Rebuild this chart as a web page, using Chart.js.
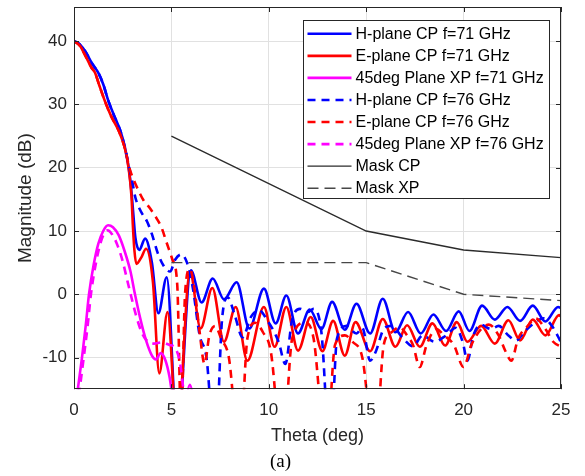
<!DOCTYPE html>
<html>
<head>
<meta charset="utf-8">
<script src="https://cdn.jsdelivr.net/npm/chart.js@4.4.1/dist/chart.umd.min.js"></script>
<style>
  html, body { margin: 0; padding: 0; background: #fff; }
</style>
</head>
<body>
<canvas id="pattern" width="585" height="476"></canvas>
<script>
// values (theta in deg, magnitude in dB)
const xTicks = [0, 5, 10, 15, 20, 25];
const yTicks = [-10, 0, 10, 20, 30, 40];

const thetaH71 = [0, 0.3, 0.6, 0.9, 1.25, 1.5, 1.76, 2.05, 2.36, 2.6,
  2.8, 2.95, 3.05, 3.15, 3.35, 3.65, 4.0, 4.33, 4.76, 5.3,
  6.0, 6.55, 7.12, 7.7, 8.35, 9.0, 9.75, 10.35, 10.9, 11.5,
  12.1, 12.7, 13.25, 13.9, 14.5, 15.2, 15.85, 16.5, 17.15, 17.8,
  18.45, 19.1, 19.75, 20.3, 20.95, 21.6, 22.25, 22.9, 23.55, 24.2,
  24.85, 25];
const magH71 = [40, 39.5, 38.3, 36.6, 35, 33.2, 30.6, 28.3, 26, 23.4,
  20.2, 16.2, 12.5, 9, 7, 8.8, 5, -3, 2.7, -22,
  3.8, -1.3, 2.5, -0.8, 1.9, -5.4, 0.9, -4.6, -0.2, -6.2,
  -2.4, -5.5, -1.2, -5.6, -1.5, -6.2, -0.7, -6, -2.8, -6.2,
  -3.2, -5.8, -2.7, -5.8, -1.8, -4, -2, -4.2, -1.8, -4.3,
  -2, -2.2];

const thetaE71 = [0, 0.3, 0.6, 0.9, 1.08, 1.3, 1.59, 1.9, 2.3, 2.6,
  2.8, 2.95, 3.02, 3.1, 3.2, 3.45, 3.7, 4.05, 4.38, 4.8,
  5.3, 5.95, 6.5, 7.1, 7.7, 8.3, 8.9, 9.75, 10.3, 10.9,
  11.5, 12.15, 12.75, 13.3, 13.9, 14.45, 15.2, 15.85, 16.5, 17.1,
  17.75, 18.4, 19.05, 19.65, 20.2, 20.9, 21.6, 22.3, 22.9, 23.55,
  24.2, 24.9, 25];
const magE71 = [40, 39.3, 37.6, 35.8, 35, 33, 30.5, 28.2, 25.8, 23.2,
  20, 15.5, 11, 7, 4.8, 5.8, 7.2, 2, -12.5, -2.8,
  -22, 3.6, -5.4, 1, -7.5, -2, -10.5, -2, -8.3, -2,
  -8.9, -3.6, -9, -4.2, -9.7, -4.4, -9, -3.9, -8.3, -4.9,
  -8.3, -4.6, -8.1, -4.4, -7.5, -5, -7.8, -4.1, -7.3, -4,
  -6.5, -3.3, -3.5];

const thetaX71 = [0.15, 0.41, 0.6, 0.77, 1.0, 1.25, 1.5, 1.75, 2.0, 2.3,
  2.6, 2.9, 3.13, 3.4, 3.7, 4.0, 4.2, 4.45, 4.7, 4.9,
  5.05, 5.5, 5.95, 6.3];
const magX71 = [-16, -10, -5, 0, 4.5, 8, 10, 10.9, 10.6, 9.3,
  6.8, 3.6, 0, -3.8, -7.3, -9.7, -10.3, -9.3, -10.5, -13,
  -16, -22, -14.3, -22];

const thetaH76 = [0, 0.3, 0.6, 0.9, 1.25, 1.5, 1.76, 2.05, 2.36, 2.6,
  2.8, 2.98, 3.15, 3.45, 3.75, 4.0, 4.3, 4.6, 4.93, 5.2,
  5.5, 5.8, 6.1, 6.45, 6.8, 7.25, 7.6, 7.9, 8.25, 8.65,
  9.1, 9.5, 9.9, 10.5, 10.85, 11.2, 11.6, 12.0, 12.3, 12.7,
  13.15, 13.5, 14.0, 14.5, 14.8, 15.2, 15.5, 15.9, 16.3, 16.9,
  17.4, 17.9, 18.5, 19.1, 19.6, 19.95, 20.2, 20.5, 20.9, 21.4,
  21.8, 22.3, 22.7, 23.1, 23.6, 24.1, 24.6, 25];
const magH76 = [40, 39.5, 38.3, 36.6, 35, 33.2, 30.6, 28.3, 26, 23.4,
  20.5, 18, 15.3, 13, 11.5, 9.5, 6.5, 4.5, 3.6, 5.5,
  6.3, 5, 1, -6.5, -10, -25, -4, -0.5, -3.3, -6.8,
  -3.5, -2.5, -4, -7.5, -11, -4, -2.3, -2.8, -2.3, -6,
  -25, -7, -5, -6.2, -5.3, -10.5, -9, -5.5, -5, -7,
  -8.2, -6.5, -7.5, -6.5, -5.3, -7.5, -10.5, -6.5, -4.8, -5.5,
  -5, -6.5, -7.3, -6, -4.6, -3.8, -5.3, -7.6];

const thetaE76 = [0, 0.3, 0.6, 0.9, 1.08, 1.3, 1.59, 1.9, 2.3, 2.6,
  2.87, 3.22, 3.56, 3.9, 4.24, 4.5, 4.75, 5.05, 5.3, 5.5,
  5.7, 5.95, 6.2, 6.45, 6.7, 6.95, 7.25, 7.55, 7.95, 8.5,
  8.9, 9.3, 9.7, 10.1, 10.7, 11.2, 11.85, 12.3, 12.95, 13.4,
  13.9, 14.3, 14.8, 15.45, 15.9, 16.3, 16.7, 17.1, 17.4, 17.75,
  18.1, 18.6, 19.0, 19.5, 20.0, 20.4, 20.9, 21.3, 21.8, 22.15,
  22.45, 22.8, 23.3, 23.7, 24.2, 24.6, 25];
const magE76 = [40, 39.3, 37.6, 35.8, 35, 33, 30.5, 28.2, 25.8, 23.2,
  19.7, 17, 14.9, 13.6, 12, 10.5, 8.2, 5.5, 1.5, -20,
  0, 4, 0.5, -6, -11, -6.5, -5, -7, -10, -25,
  -7, -4.5, -6, -9, -25, -7, -4.5, -7, -25, -8,
  -6.5, -7.5, -10, -25, -8, -6, -5.2, -6.5, -8, -11.5,
  -8, -5.5, -6.5, -8, -11.5, -8, -5.5, -4.8, -6.5, -9,
  -10.5, -7, -5, -3.8, -5.5, -7.5, -8.3];

const thetaX76 = [0.25, 0.5, 0.7, 0.87, 1.1, 1.35, 1.55, 1.72, 1.95, 2.2,
  2.5, 2.75, 2.95, 3.2, 3.5, 3.8, 4.1, 4.5, 4.9, 5.2,
  5.45, 5.65];
const magX76 = [-16, -10, -5, 0, 4.5, 8, 9.6, 10.1, 9.5, 8,
  5.2, 2, -0.5, -3.5, -6.2, -7.5, -7.8, -7.6, -8, -8.5,
  -11, -16];

const thetaMask = [5, 15, 20, 25];
const maskCP = [25, 10, 7, 5.8];
const maskXP = [5, 5, 0, -1];

const seriesLabels = ['H-plane CP f=71 GHz', 'E-plane CP f=71 GHz', '45deg Plane XP f=71 GHz',
  'H-plane CP f=76 GHz', 'E-plane CP f=76 GHz', '45deg Plane XP f=76 GHz', 'Mask CP', 'Mask XP'];

function pts(t, m) {
  return t.map((v, i) => ({x: v, y: m[i]}));
}

const FONT = "'Liberation Sans', Arial, Helvetica, sans-serif";
const AXIS = '#262626';
Chart.defaults.font.family = FONT;

function curve(label, t, m, color, dashed) {
  return {
    label: label,
    data: pts(t, m),
    borderColor: color,
    borderWidth: 2.6,
    borderDash: dashed ? [8, 6] : [],
    pointRadius: 0,
    fill: false,
    cubicInterpolationMode: 'monotone',
    clip: 0
  };
}

function mask(label, m, color, dashed) {
  return {
    label: label,
    data: pts(thetaMask, m),
    borderColor: color,
    borderWidth: 1.4,
    borderDash: dashed ? [11, 6] : [],
    pointRadius: 0,
    fill: false,
    tension: 0,
    clip: 0
  };
}

const datasets = [
  curve(seriesLabels[0], thetaH71, magH71, '#0000ff', false),
  curve(seriesLabels[1], thetaE71, magE71, '#ff0000', false),
  curve(seriesLabels[2], thetaX71, magX71, '#ff00ff', false),
  curve(seriesLabels[3], thetaH76, magH76, '#0000ff', true),
  curve(seriesLabels[4], thetaE76, magE76, '#ff0000', true),
  curve(seriesLabels[5], thetaX76, magX76, '#ff00ff', true),
  mask(seriesLabels[6], maskCP, '#2b2b2b', false),
  mask(seriesLabels[7], maskXP, '#474747', true)
];
// later series on top, like the original plot
datasets.forEach((d, i) => { d.order = datasets.length - i; });

// axes box, inward ticks and the boxed legend in the upper right
const boxPlugin = {
  id: 'boxLegend',
  afterDatasetsDraw(chart) {
    const {ctx, chartArea: a, scales: {x, y}} = chart;
    ctx.save();
    ctx.strokeStyle = AXIS;
    ctx.lineWidth = 1;
    ctx.setLineDash([]);
    ctx.beginPath();
    xTicks.forEach(v => {
      const px = Math.round(x.getPixelForValue(v)) + 0.5;
      ctx.moveTo(px, a.bottom); ctx.lineTo(px, a.bottom - 5);
      ctx.moveTo(px, a.top); ctx.lineTo(px, a.top + 5);
    });
    yTicks.forEach(v => {
      const py = Math.round(y.getPixelForValue(v)) + 0.5;
      ctx.moveTo(a.left, py); ctx.lineTo(a.left + 5, py);
      ctx.moveTo(a.right, py); ctx.lineTo(a.right - 5, py);
    });
    ctx.stroke();
    ctx.strokeRect(Math.round(a.left) + 0.5, Math.round(a.top) + 0.5,
      Math.round(a.right - a.left) - 1, Math.round(a.bottom - a.top) - 1);

    ctx.font = '16px ' + FONT;
    let maxW = 0;
    chart.data.datasets.forEach(d => { maxW = Math.max(maxW, ctx.measureText(d.label).width); });
    const rowH = 22.06;
    const w = Math.round(52 + maxW + 6);
    const h = Math.round(13.3 + rowH * 7 + 10);
    const left = Math.round(a.right - 12 - w) + 0.5;
    const top = Math.round(a.top + 13) + 0.5;
    ctx.fillStyle = '#ffffff';
    ctx.fillRect(left, top, w, h);
    ctx.strokeStyle = AXIS;
    ctx.strokeRect(left, top, w, h);
    ctx.textBaseline = 'middle';
    ctx.textAlign = 'left';
    chart.data.datasets.forEach((d, i) => {
      const cy = top + 13.3 + i * rowH;
      ctx.beginPath();
      ctx.strokeStyle = d.borderColor;
      ctx.lineWidth = d.borderWidth;
      ctx.setLineDash(d.borderDash);
      ctx.moveTo(left + 4, cy);
      ctx.lineTo(left + 48, cy);
      ctx.stroke();
      ctx.fillStyle = '#000000';
      ctx.fillText(d.label, left + 52, cy + 0.5);
    });
    ctx.restore();
  }
};

new Chart(document.getElementById('pattern').getContext('2d'), {
  type: 'line',
  data: { datasets: datasets },
  plugins: [boxPlugin],
  options: {
    responsive: false,
    animation: false,
    devicePixelRatio: 1,
    layout: { padding: { left: 0, right: 24, top: 7, bottom: 0 } },
    plugins: {
      legend: { display: false },
      tooltip: { enabled: false },
      title: {
        display: true,
        position: 'bottom',
        text: '(a)',
        color: '#000000',
        font: { family: "'Liberation Serif', 'Times New Roman', serif", size: 19, weight: 'normal' },
        padding: { top: 0, bottom: 3 }
      }
    },
    scales: {
      x: {
        type: 'linear',
        min: 0,
        max: 25,
        afterBuildTicks: s => { s.ticks = xTicks.map(v => ({value: v})); },
        afterFit: s => { s.height = 61; s.paddingLeft = 0; s.paddingRight = 0; },
        grid: { color: '#e1e1e1', drawTicks: false },
        border: { display: false },
        ticks: { padding: 11, color: AXIS, font: { size: 17 } },
        title: { display: true, text: 'Theta (deg)', color: AXIS, font: { size: 18 }, padding: { top: 0, bottom: 3 } }
      },
      y: {
        type: 'linear',
        min: -15,
        max: 45.4,
        afterBuildTicks: s => { s.ticks = yTicks.map(v => ({value: v})); },
        afterFit: s => { s.width = 74; s.paddingTop = 0; s.paddingBottom = 0; },
        grid: { color: '#e1e1e1', drawTicks: false },
        border: { display: false },
        ticks: { padding: 7, color: AXIS, font: { size: 17 } },
        title: { display: true, text: 'Magnitude (dB)', color: AXIS, font: { size: 19 }, padding: { top: 14, bottom: 0 } }
      }
    }
  }
});
</script>
</body>
</html>
